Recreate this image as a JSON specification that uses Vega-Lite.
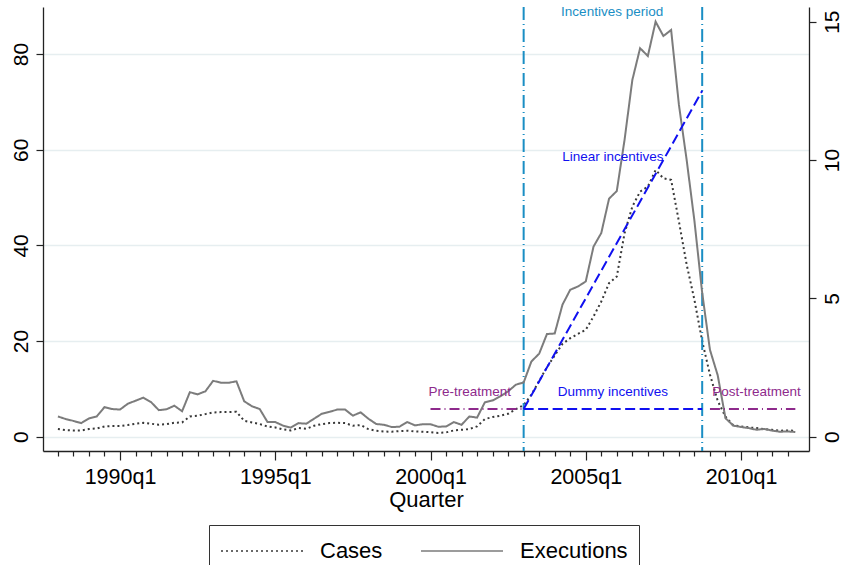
{
  "$schema": "https://vega.github.io/schema/vega-lite/v6.json",
  "width": 766,
  "height": 444,
  "autosize": {"type": "none"},
  "padding": {"left": 43, "top": 7, "right": 35, "bottom": 114},
  "background": "white",
  "config": {
    "font": "Liberation Sans",
    "view": {"stroke": null},
    "axis": {"domainColor": "#222", "tickColor": "#222", "labelColor": "#000", "titleColor": "#000", "domainWidth": 1.3, "tickWidth": 1.2, "titleFontWeight": "normal"}
  },
  "datasets": {
    "counts": [
      {"series":"Cases","q":112,"value":1.60},{"series":"Cases","q":113,"value":1.39},{"series":"Cases","q":114,"value":1.32},{"series":"Cases","q":115,"value":1.32},
      {"series":"Cases","q":116,"value":1.60},{"series":"Cases","q":117,"value":1.74},{"series":"Cases","q":118,"value":2.16},{"series":"Cases","q":119,"value":2.23},
      {"series":"Cases","q":120,"value":2.23},{"series":"Cases","q":121,"value":2.44},{"series":"Cases","q":122,"value":2.72},{"series":"Cases","q":123,"value":2.92},
      {"series":"Cases","q":124,"value":2.72},{"series":"Cases","q":125,"value":2.51},{"series":"Cases","q":126,"value":2.65},{"series":"Cases","q":127,"value":2.92},
      {"series":"Cases","q":128,"value":2.99},{"series":"Cases","q":129,"value":4.25},{"series":"Cases","q":130,"value":4.39},{"series":"Cases","q":131,"value":4.73},
      {"series":"Cases","q":132,"value":5.08},{"series":"Cases","q":133,"value":5.15},{"series":"Cases","q":134,"value":5.15},{"series":"Cases","q":135,"value":5.22},
      {"series":"Cases","q":136,"value":3.34},{"series":"Cases","q":137,"value":2.99},{"series":"Cases","q":138,"value":2.65},{"series":"Cases","q":139,"value":2.16},
      {"series":"Cases","q":140,"value":1.95},{"series":"Cases","q":141,"value":1.53},{"series":"Cases","q":142,"value":1.32},{"series":"Cases","q":143,"value":1.81},
      {"series":"Cases","q":144,"value":1.67},{"series":"Cases","q":145,"value":2.30},{"series":"Cases","q":146,"value":2.65},{"series":"Cases","q":147,"value":2.85},
      {"series":"Cases","q":148,"value":2.92},{"series":"Cases","q":149,"value":2.85},{"series":"Cases","q":150,"value":2.30},{"series":"Cases","q":151,"value":2.44},
      {"series":"Cases","q":152,"value":1.60},{"series":"Cases","q":153,"value":1.25},{"series":"Cases","q":154,"value":1.11},{"series":"Cases","q":155,"value":1.04},
      {"series":"Cases","q":156,"value":1.18},{"series":"Cases","q":157,"value":1.25},{"series":"Cases","q":158,"value":1.11},{"series":"Cases","q":159,"value":1.04},
      {"series":"Cases","q":160,"value":0.97},{"series":"Cases","q":161,"value":0.80},{"series":"Cases","q":162,"value":0.90},{"series":"Cases","q":163,"value":1.32},
      {"series":"Cases","q":164,"value":1.46},{"series":"Cases","q":165,"value":1.60},{"series":"Cases","q":166,"value":2.16},{"series":"Cases","q":167,"value":3.69},
      {"series":"Cases","q":168,"value":4.11},{"series":"Cases","q":169,"value":4.39},{"series":"Cases","q":170,"value":4.80},{"series":"Cases","q":171,"value":5.78},
      {"series":"Cases","q":172,"value":6.6},{"series":"Cases","q":173,"value":8.8},{"series":"Cases","q":174,"value":11.7},{"series":"Cases","q":175,"value":14.5},
      {"series":"Cases","q":176,"value":17.0},{"series":"Cases","q":177,"value":19.4},{"series":"Cases","q":178,"value":20.6},{"series":"Cases","q":179,"value":21.5},
      {"series":"Cases","q":180,"value":22.35},{"series":"Cases","q":181,"value":25.13},{"series":"Cases","q":182,"value":28.27},{"series":"Cases","q":183,"value":32.10},
      {"series":"Cases","q":184,"value":33.49},{"series":"Cases","q":185,"value":42.54},{"series":"Cases","q":186,"value":48.11},{"series":"Cases","q":187,"value":51.24},
      {"series":"Cases","q":188,"value":52.29},{"series":"Cases","q":189,"value":55.77},{"series":"Cases","q":190,"value":54.03},{"series":"Cases","q":191,"value":53.68},
      {"series":"Cases","q":192,"value":45.0},{"series":"Cases","q":193,"value":36.0},{"series":"Cases","q":194,"value":28.6},{"series":"Cases","q":195,"value":20.0},
      {"series":"Cases","q":196,"value":13.0},{"series":"Cases","q":197,"value":7.5},{"series":"Cases","q":198,"value":4.2},{"series":"Cases","q":199,"value":2.4},
      {"series":"Cases","q":200,"value":2.16},{"series":"Cases","q":201,"value":1.95},{"series":"Cases","q":202,"value":1.81},{"series":"Cases","q":203,"value":1.60},
      {"series":"Cases","q":204,"value":1.46},{"series":"Cases","q":205,"value":1.25},{"series":"Cases","q":206,"value":1.32},{"series":"Cases","q":207,"value":1.25},
      {"series":"Executions","q":112,"value":0.73},{"series":"Executions","q":113,"value":0.64},{"series":"Executions","q":114,"value":0.57},{"series":"Executions","q":115,"value":0.49},
      {"series":"Executions","q":116,"value":0.66},{"series":"Executions","q":117,"value":0.73},{"series":"Executions","q":118,"value":1.07},{"series":"Executions","q":119,"value":1.00},
      {"series":"Executions","q":120,"value":0.98},{"series":"Executions","q":121,"value":1.19},{"series":"Executions","q":122,"value":1.30},{"series":"Executions","q":123,"value":1.41},
      {"series":"Executions","q":124,"value":1.25},{"series":"Executions","q":125,"value":0.96},{"series":"Executions","q":126,"value":0.99},{"series":"Executions","q":127,"value":1.12},
      {"series":"Executions","q":128,"value":0.92},{"series":"Executions","q":129,"value":1.61},{"series":"Executions","q":130,"value":1.53},{"series":"Executions","q":131,"value":1.64},
      {"series":"Executions","q":132,"value":2.02},{"series":"Executions","q":133,"value":1.95},{"series":"Executions","q":134,"value":1.95},{"series":"Executions","q":135,"value":2.00},
      {"series":"Executions","q":136,"value":1.28},{"series":"Executions","q":137,"value":1.10},{"series":"Executions","q":138,"value":1.00},{"series":"Executions","q":139,"value":0.53},
      {"series":"Executions","q":140,"value":0.53},{"series":"Executions","q":141,"value":0.40},{"series":"Executions","q":142,"value":0.33},{"series":"Executions","q":143,"value":0.49},
      {"series":"Executions","q":144,"value":0.47},{"series":"Executions","q":145,"value":0.65},{"series":"Executions","q":146,"value":0.83},{"series":"Executions","q":147,"value":0.90},
      {"series":"Executions","q":148,"value":0.98},{"series":"Executions","q":149,"value":0.98},{"series":"Executions","q":150,"value":0.76},{"series":"Executions","q":151,"value":0.88},
      {"series":"Executions","q":152,"value":0.65},{"series":"Executions","q":153,"value":0.46},{"series":"Executions","q":154,"value":0.43},{"series":"Executions","q":155,"value":0.35},
      {"series":"Executions","q":156,"value":0.36},{"series":"Executions","q":157,"value":0.53},{"series":"Executions","q":158,"value":0.41},{"series":"Executions","q":159,"value":0.45},
      {"series":"Executions","q":160,"value":0.45},{"series":"Executions","q":161,"value":0.36},{"series":"Executions","q":162,"value":0.37},{"series":"Executions","q":163,"value":0.53},
      {"series":"Executions","q":164,"value":0.43},{"series":"Executions","q":165,"value":0.73},{"series":"Executions","q":166,"value":0.69},{"series":"Executions","q":167,"value":1.24},
      {"series":"Executions","q":168,"value":1.31},{"series":"Executions","q":169,"value":1.46},{"series":"Executions","q":170,"value":1.64},{"series":"Executions","q":171,"value":1.88},
      {"series":"Executions","q":172,"value":1.96},{"series":"Executions","q":173,"value":2.72},{"series":"Executions","q":174,"value":3.00},{"series":"Executions","q":175,"value":3.71},
      {"series":"Executions","q":176,"value":3.73},{"series":"Executions","q":177,"value":4.77},{"series":"Executions","q":178,"value":5.31},{"series":"Executions","q":179,"value":5.43},
      {"series":"Executions","q":180,"value":5.61},{"series":"Executions","q":181,"value":6.87},{"series":"Executions","q":182,"value":7.36},{"series":"Executions","q":183,"value":8.60},
      {"series":"Executions","q":184,"value":8.88},{"series":"Executions","q":185,"value":10.73},{"series":"Executions","q":186,"value":12.89},{"series":"Executions","q":187,"value":14.04},
      {"series":"Executions","q":188,"value":13.76},{"series":"Executions","q":189,"value":15.00},{"series":"Executions","q":190,"value":14.48},{"series":"Executions","q":191,"value":14.70},
      {"series":"Executions","q":192,"value":12.0},{"series":"Executions","q":193,"value":10.0},{"series":"Executions","q":194,"value":7.8},{"series":"Executions","q":195,"value":5.2},
      {"series":"Executions","q":196,"value":3.14},{"series":"Executions","q":197,"value":2.22},{"series":"Executions","q":198,"value":0.67},{"series":"Executions","q":199,"value":0.40},
      {"series":"Executions","q":200,"value":0.35},{"series":"Executions","q":201,"value":0.31},{"series":"Executions","q":202,"value":0.25},{"series":"Executions","q":203,"value":0.28},
      {"series":"Executions","q":204,"value":0.22},{"series":"Executions","q":205,"value":0.18},{"series":"Executions","q":206,"value":0.19},{"series":"Executions","q":207,"value":0.17}
    ],
    "periods": [{"q": 172}, {"q": 195}],
    "regimes": [
      {"series": "Pre-treatment", "kind": "treatment", "q": 160, "value": 1},
      {"series": "Pre-treatment", "kind": "treatment", "q": 172, "value": 1},
      {"series": "Post-treatment", "kind": "treatment", "q": 196, "value": 1},
      {"series": "Post-treatment", "kind": "treatment", "q": 207, "value": 1},
      {"series": "Dummy incentives", "kind": "incentive", "q": 172, "value": 1},
      {"series": "Dummy incentives", "kind": "incentive", "q": 195, "value": 1},
      {"series": "Linear incentives", "kind": "incentive", "q": 172, "value": 1},
      {"series": "Linear incentives", "kind": "incentive", "q": 195, "value": 12.5}
    ],
    "labels": [
      {"label": "Incentives period", "kind": "period", "q": 183.4, "value": 15.36},
      {"label": "Linear incentives", "kind": "incentive", "q": 183.5, "value": 10.12},
      {"label": "Dummy incentives", "kind": "incentive", "q": 183.5, "value": 1.63},
      {"label": "Pre-treatment", "kind": "treatment", "q": 165.05, "value": 1.63},
      {"label": "Post-treatment", "kind": "treatment", "q": 202.0, "value": 1.63}
    ]
  },
  "encoding": {
    "x": {
      "field": "q",
      "type": "quantitative",
      "scale": {"domain": [110.08, 208.76], "nice": false, "zero": false},
      "axis": {
        "title": "Quarter",
        "titleFontSize": 22,
        "titlePadding": 2,
        "values": [112,114,116,118,120,122,124,126,128,130,132,134,136,138,140,142,144,146,148,150,152,154,156,158,160,162,164,166,168,170,172,174,176,178,180,182,184,186,188,190,192,194,196,198,200,202,204,206],
        "labelExpr": "datum.value % 20 == 0 ? (floor(datum.value / 4) + 1960) + 'q' + (datum.value % 4 + 1) : ''",
        "labelFontSize": 21.5,
        "labelOverlap": false,
        "labelFlush": false,
        "labelPadding": 6,
        "tickSize": {"condition": {"test": "datum.value % 20 == 0", "value": 9}, "value": 5},
        "grid": false
      }
    }
  },
  "layer": [
    {
      "layer": [
        {
          "data": {"name": "counts"},
          "transform": [{"filter": "datum.series == 'Cases'"}],
          "mark": {"type": "line", "strokeWidth": 2, "strokeCap": "butt"},
          "encoding": {
            "y": {
              "field": "value",
              "type": "quantitative",
              "scale": {"domain": [-2.98, 89.83], "nice": false, "zero": false},
              "axis": {
                "title": null,
                "values": [0, 20, 40, 60, 80],
                "grid": true,
                "gridColor": "#e6eef0",
                "gridWidth": 1.6,
                "labelAngle": -90,
                "labelFontSize": 21,
                "tickSize": 7,
                "labelPadding": 5
              }
            },
            "color": {
              "field": "series", "type": "nominal",
              "scale": {"domain": ["Cases", "Executions"], "range": ["#383838", "#7c7c7c"]},
              "legend": {"title": null, "orient": "none", "legendX": 166, "legendY": 518, "direction": "horizontal", "padding": 11, "clipHeight": 30, "symbolType": "stroke", "symbolSize": 6724, "symbolStrokeWidth": 1.6, "labelFontSize": 22, "labelOffset": 16, "columnPadding": 37, "strokeColor": "#333", "labelColor": "#000"}
            },
            "strokeDash": {
              "field": "series", "type": "nominal",
              "scale": {"domain": ["Cases", "Executions"], "range": [[2, 3], [1, 0]]},
              "legend": {"title": null, "orient": "none", "legendX": 166, "legendY": 518, "direction": "horizontal", "padding": 11, "clipHeight": 30, "symbolType": "stroke", "symbolSize": 6724, "symbolStrokeWidth": 1.6, "labelFontSize": 22, "labelOffset": 16, "columnPadding": 37, "strokeColor": "#333", "labelColor": "#000"}
            }
          }
        },
        {
          "data": {"name": "periods"},
          "mark": {"type": "rule", "color": "#1a8ec4", "strokeWidth": 2, "strokeDash": [13, 4, 1, 4]},
          "encoding": {}
        }
      ]
    },
    {
      "encoding": {
        "y": {
          "field": "value",
          "type": "quantitative",
          "scale": {"domain": [-0.517, 15.53], "nice": false, "zero": false},
          "axis": {
            "title": null,
            "orient": "right",
            "values": [0, 5, 10, 15],
            "grid": false,
            "labelAngle": -90,
            "labelFontSize": 21,
            "tickSize": 7,
            "labelPadding": 5
          }
        }
      },
      "layer": [
        {
          "data": {"name": "counts"},
          "transform": [{"filter": "datum.series == 'Executions'"}],
          "mark": {"type": "line", "strokeWidth": 2},
          "encoding": {
            "color": {"field": "series", "type": "nominal"},
            "strokeDash": {"field": "series", "type": "nominal"}
          }
        },
        {
          "data": {"name": "regimes"},
          "transform": [{"filter": "datum.kind == 'treatment'"}],
          "mark": {"type": "line", "color": "#8e2a8c", "strokeWidth": 2, "strokeDash": [10, 4, 1, 4]},
          "encoding": {"detail": {"field": "series"}}
        },
        {
          "data": {"name": "regimes"},
          "transform": [{"filter": "datum.kind == 'incentive'"}],
          "mark": {"type": "line", "color": "#1010f0", "strokeWidth": 2, "strokeDash": [10, 4.5]},
          "encoding": {"detail": {"field": "series"}}
        },
        {
          "data": {"name": "labels"},
          "transform": [{"filter": "datum.kind == 'period'"}],
          "mark": {"type": "text", "color": "#1a8ec4", "fontSize": 13.5, "align": "center", "baseline": "middle"},
          "encoding": {"text": {"field": "label"}}
        },
        {
          "data": {"name": "labels"},
          "transform": [{"filter": "datum.kind == 'incentive'"}],
          "mark": {"type": "text", "color": "#1010f0", "fontSize": 13.5, "align": "center", "baseline": "middle"},
          "encoding": {"text": {"field": "label"}}
        },
        {
          "data": {"name": "labels"},
          "transform": [{"filter": "datum.kind == 'treatment'"}],
          "mark": {"type": "text", "color": "#8e2a8c", "fontSize": 13.5, "align": "center", "baseline": "middle"},
          "encoding": {"text": {"field": "label"}}
        }
      ]
    }
  ],
  "resolve": {"scale": {"y": "independent"}}
}
